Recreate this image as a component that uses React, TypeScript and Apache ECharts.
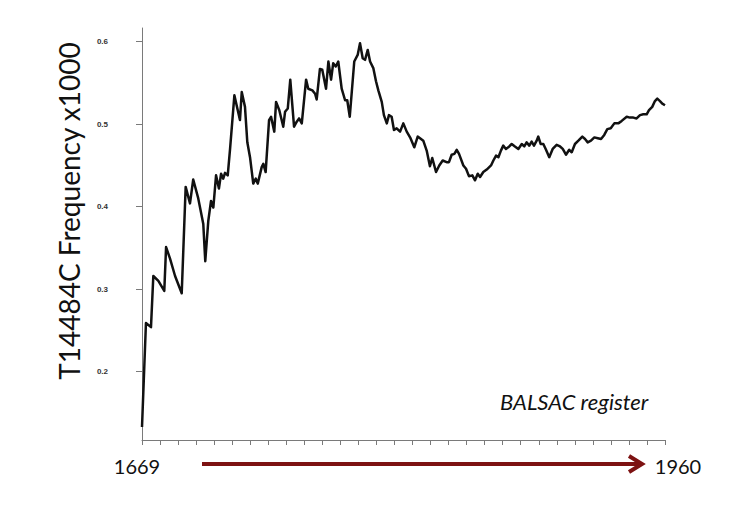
import React, { useEffect, useRef } from "react";
import * as echarts from "echarts";

const years = [
  1669, 1671.2, 1674, 1675.3, 1678.1, 1681.4, 1682.4, 1684.6, 1687.4, 1691.1,
  1693.3, 1695.7, 1697.5, 1700.3, 1703.1, 1704.2, 1705.9, 1707.4, 1708.7, 1710.2,
  1711.8, 1713, 1714.2, 1715.2, 1716.7, 1718, 1720.4, 1723.5, 1724.5, 1726.3,
  1727.6, 1729.1, 1730.9, 1732.3, 1733.4, 1735.6, 1736.5, 1737.8, 1739.7, 1740.8,
  1742.6, 1743.6, 1745.4, 1747.6, 1748.6, 1750.1, 1751.5, 1753.6, 1755.1, 1756.4,
  1757.9, 1760.3, 1761.5, 1763.8, 1765.3, 1766.2, 1768, 1769.3, 1771.4, 1772.7,
  1774.2, 1775.4, 1776.8, 1778.2, 1780.1, 1782, 1783.2, 1784.6, 1787.1, 1789,
  1790.3, 1791.8, 1793.1, 1794.6, 1795.9, 1797.7, 1799.2, 1800.5, 1802.4, 1803.6,
  1805.2, 1806.4, 1807.9, 1809.2, 1810.7, 1812.6, 1814.4, 1816.3, 1818.4, 1820.5,
  1822.4, 1823.7, 1825.5, 1827.4, 1829.2, 1830.5, 1832.6, 1834.4, 1836.3, 1838.5,
  1839.8, 1841.3, 1842.8, 1844.1, 1845.4, 1847.8, 1849.3, 1850.9, 1852.8, 1854.3,
  1855.8, 1857.1, 1858.9, 1860.8, 1863.2, 1864.5, 1866, 1867.3, 1868.7, 1870,
  1871.5, 1872.8, 1874.7, 1876.5, 1878.4, 1880.3, 1881.7, 1883, 1884.5, 1885.8,
  1887.1, 1888.6, 1889.5, 1890.8, 1892.3, 1893.8, 1895.6, 1897.5, 1899.7, 1901.6,
  1903.1, 1904.9, 1906.7, 1908.1, 1909.9, 1911.8, 1914, 1915.5, 1917, 1918.8,
  1920.7, 1922.6, 1924.4, 1926.2, 1927.9, 1929.8, 1931.8, 1934, 1935.9, 1938.7,
  1940.5, 1942.4, 1944.2, 1946.1, 1947.9, 1949.8, 1951.1, 1952.9, 1954.4, 1955.7,
  1957.2, 1958.5, 1960,
];

const frequency = [
  0.133, 0.259, 0.254, 0.316, 0.31, 0.298, 0.351, 0.337, 0.316, 0.295,
  0.424, 0.404, 0.433, 0.41, 0.379, 0.334, 0.383, 0.407, 0.399, 0.438,
  0.422, 0.44, 0.434, 0.441, 0.438, 0.47, 0.535, 0.505, 0.539, 0.521,
  0.478, 0.46, 0.428, 0.434, 0.428, 0.448, 0.452, 0.442, 0.505, 0.509,
  0.491, 0.527, 0.517, 0.497, 0.515, 0.519, 0.554, 0.497, 0.503, 0.507,
  0.501, 0.554, 0.543, 0.541, 0.537, 0.53, 0.567, 0.566, 0.543, 0.576,
  0.554, 0.574, 0.57, 0.576, 0.543, 0.529, 0.529, 0.509, 0.576, 0.584,
  0.598, 0.58, 0.578, 0.59, 0.576, 0.568, 0.552, 0.541, 0.527, 0.511,
  0.501, 0.511, 0.509, 0.493, 0.495, 0.491, 0.501, 0.491, 0.483, 0.472,
  0.485, 0.483, 0.48, 0.468, 0.449, 0.459, 0.442, 0.45, 0.456, 0.454,
  0.454, 0.463, 0.464, 0.469, 0.464, 0.45, 0.446, 0.437, 0.438, 0.432,
  0.44, 0.436, 0.442, 0.445, 0.45, 0.456, 0.462, 0.46, 0.468, 0.474,
  0.47, 0.472, 0.476, 0.473, 0.47, 0.476, 0.473, 0.478, 0.474, 0.479,
  0.474, 0.48, 0.485, 0.476, 0.476, 0.469, 0.46, 0.47, 0.475, 0.473,
  0.47, 0.463, 0.469, 0.466, 0.476, 0.48, 0.485, 0.482, 0.478, 0.48,
  0.484, 0.483, 0.482, 0.487, 0.494, 0.495, 0.501, 0.501, 0.504, 0.509,
  0.508, 0.508, 0.507, 0.511, 0.512, 0.512, 0.517, 0.521, 0.528, 0.531,
  0.528, 0.525, 0.523,
];

const yTickValues = [0.2, 0.3, 0.4, 0.5, 0.6];
const xEndLabels = [1669, 1960];
const tickSegments = 29;

const yTitle = "T14484C Frequency x1000";
const noteText = "BALSAC register";

export default function App() {
  const ref = useRef<HTMLDivElement>(null);

  useEffect(() => {
    if (!ref.current) return;
    const chart = echarts.init(ref.current, undefined, { renderer: "svg" });
    const arrowColor = "#7d1212";
    const axisGrey = "#7a7a7a";

    chart.setOption({
      animation: false,
      backgroundColor: "#ffffff",
      grid: { left: 142, right: 85, top: 28, bottom: 69, containLabel: false },
      xAxis: [
        {
          type: "value",
          min: 1669,
          max: 1960,
          position: "bottom",
          axisLine: { show: true, lineStyle: { color: axisGrey, width: 1 } },
          axisTick: { show: false },
          splitLine: { show: false },
          axisLabel: {
            show: true,
            customValues: xEndLabels,
            margin: 16,
            color: "#111",
            fontFamily: "Lato",
            fontSize: 20,
            formatter: (v: number) => (v === xEndLabels[0] ? `{l|${v}}` : `{r|${v}}`),
            rich: {
              l: { fontFamily: "Lato", fontSize: 20, color: "#111", padding: [0, 10, 0, 0] },
              r: { fontFamily: "Lato", fontSize: 20, color: "#111", padding: [0, 0, 0, 26] },
            },
          },
        },
        {
          type: "value",
          min: 0,
          max: tickSegments,
          interval: 1,
          position: "bottom",
          axisLine: { show: false },
          axisTick: { show: true, length: 5, lineStyle: { color: axisGrey, width: 1 } },
          axisLabel: { show: false },
          splitLine: { show: false },
        },
      ],
      yAxis: {
        type: "value",
        min: 0.1172,
        max: 0.6166,
        offset: 21,
        axisLine: { show: true, lineStyle: { color: axisGrey, width: 1 } },
        axisTick: { show: true, length: 6, customValues: yTickValues, lineStyle: { color: axisGrey } },
        splitLine: { show: false },
        axisLabel: {
          customValues: yTickValues,
          margin: 13,
          fontSize: 8,
          fontWeight: "bold",
          color: "#333",
          fontFamily: "Liberation Sans",
          formatter: (v: number) => v.toFixed(1),
        },
      },
      series: [
        {
          type: "line",
          xAxisIndex: 0,
          data: years.map((y, i) => [y, frequency[i]]),
          symbol: "none",
          smooth: false,
          lineStyle: { color: "#111", width: 2.5, join: "round" },
        },
      ],
      graphic: [
        {
          type: "text",
          x: 69,
          y: 211,
          rotation: Math.PI / 2,
          style: {
            text: yTitle,
            fontFamily: "Lato",
            fontSize: 28,
            fill: "#111",
            align: "center",
            verticalAlign: "middle",
          },
        },
        {
          type: "text",
          x: 500,
          y: 401,
          style: {
            text: noteText,
            fontFamily: "Lato",
            fontStyle: "italic",
            fontSize: 22,
            fill: "#111",
            align: "left",
            verticalAlign: "middle",
          },
        },
        {
          type: "line",
          shape: { x1: 202, y1: 464, x2: 640, y2: 464 },
          style: { stroke: arrowColor, lineWidth: 4 },
        },
        {
          type: "polyline",
          shape: { points: [[629, 456], [642, 464], [629, 472]] },
          style: { stroke: arrowColor, lineWidth: 4, fill: "none", lineJoin: "miter" },
        },
      ],
    });

    return () => chart.dispose();
  }, []);

  return (
    <div
      ref={ref}
      style={{ position: "fixed", left: 0, top: 0, width: 750, height: 509, background: "#fff" }}
    />
  );
}
